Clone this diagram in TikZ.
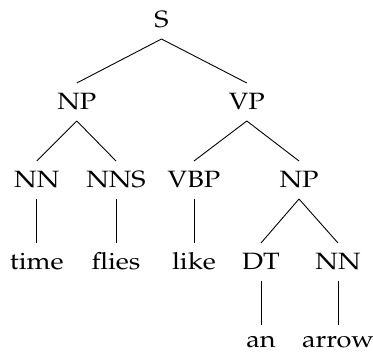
\documentclass[tikz,border=0pt]{standalone}
\usepackage[T1]{fontenc}
\usepackage{mathpazo}
\usepackage{graphicx}
\newcommand{\sx}[1]{\scalebox{1.15}[1]{#1}}
\tikzset{
  lab/.style={anchor=base, inner xsep=0pt, inner ysep=5.5pt, outer sep=0pt,
    text height=8pt, text depth=0pt, font=\fontsize{11.8}{14}\selectfont},
  low/.style={lab, inner ysep=1pt, text height=10pt},
  edge/.style={line width=0.45pt, black}
}
\begin{document}
\begin{tikzpicture}[x=1pt,y=1pt]
\useasboundingbox (0,0) rectangle (186.5,176);
\node[lab] (S)   at (80.75,162) {\sx{S}};
\node[lab] (NP)  at (38.4,121) {\sx{NP}};
\node[lab] (VP)  at (123.4,121) {\sx{VP}};
\node[lab] (NN)  at (18.4,82) {\sx{NN}};
\node[lab] (NNS) at (58,82) {\sx{NNS}};
\node[lab] (VBP) at (97,82) {\sx{VBP}};
\node[lab] (NPb) at (149.5,82) {\sx{NP}};
\node[lab] (time)  at (18.4,41) {\sx{time}};
\node[lab] (flies) at (58,41) {\sx{flies}};
\node[lab] (like)  at (97,41) {\sx{like}};
\node[lab] (DT)    at (130.5,41) {\sx{DT}};
\node[lab] (NNb)   at (169,41) {\sx{NN}};
\node[low] (an)    at (130.5,2.3) {\sx{an}};
\node[low] (arrow) at (169,2.3) {\sx{arrow}};
\draw[edge] (S.south) -- (NP.north);
\draw[edge] (S.south) -- (VP.north);
\draw[edge] (NP.south) -- (NN.north);
\draw[edge] (NP.south) -- (NNS.north);
\draw[edge] (VP.south) -- (VBP.north);
\draw[edge] (VP.south) -- (NPb.north);
\draw[edge] (NN.south) -- (time.north);
\draw[edge] (NNS.south) -- (flies.north);
\draw[edge] (VBP.south) -- (like.north);
\draw[edge] (NPb.south) -- (DT.north);
\draw[edge] (NPb.south) -- (NNb.north);
\draw[edge] (DT.south) -- (an.north);
\draw[edge] (NNb.south) -- (arrow.north);
\end{tikzpicture}
\end{document}
